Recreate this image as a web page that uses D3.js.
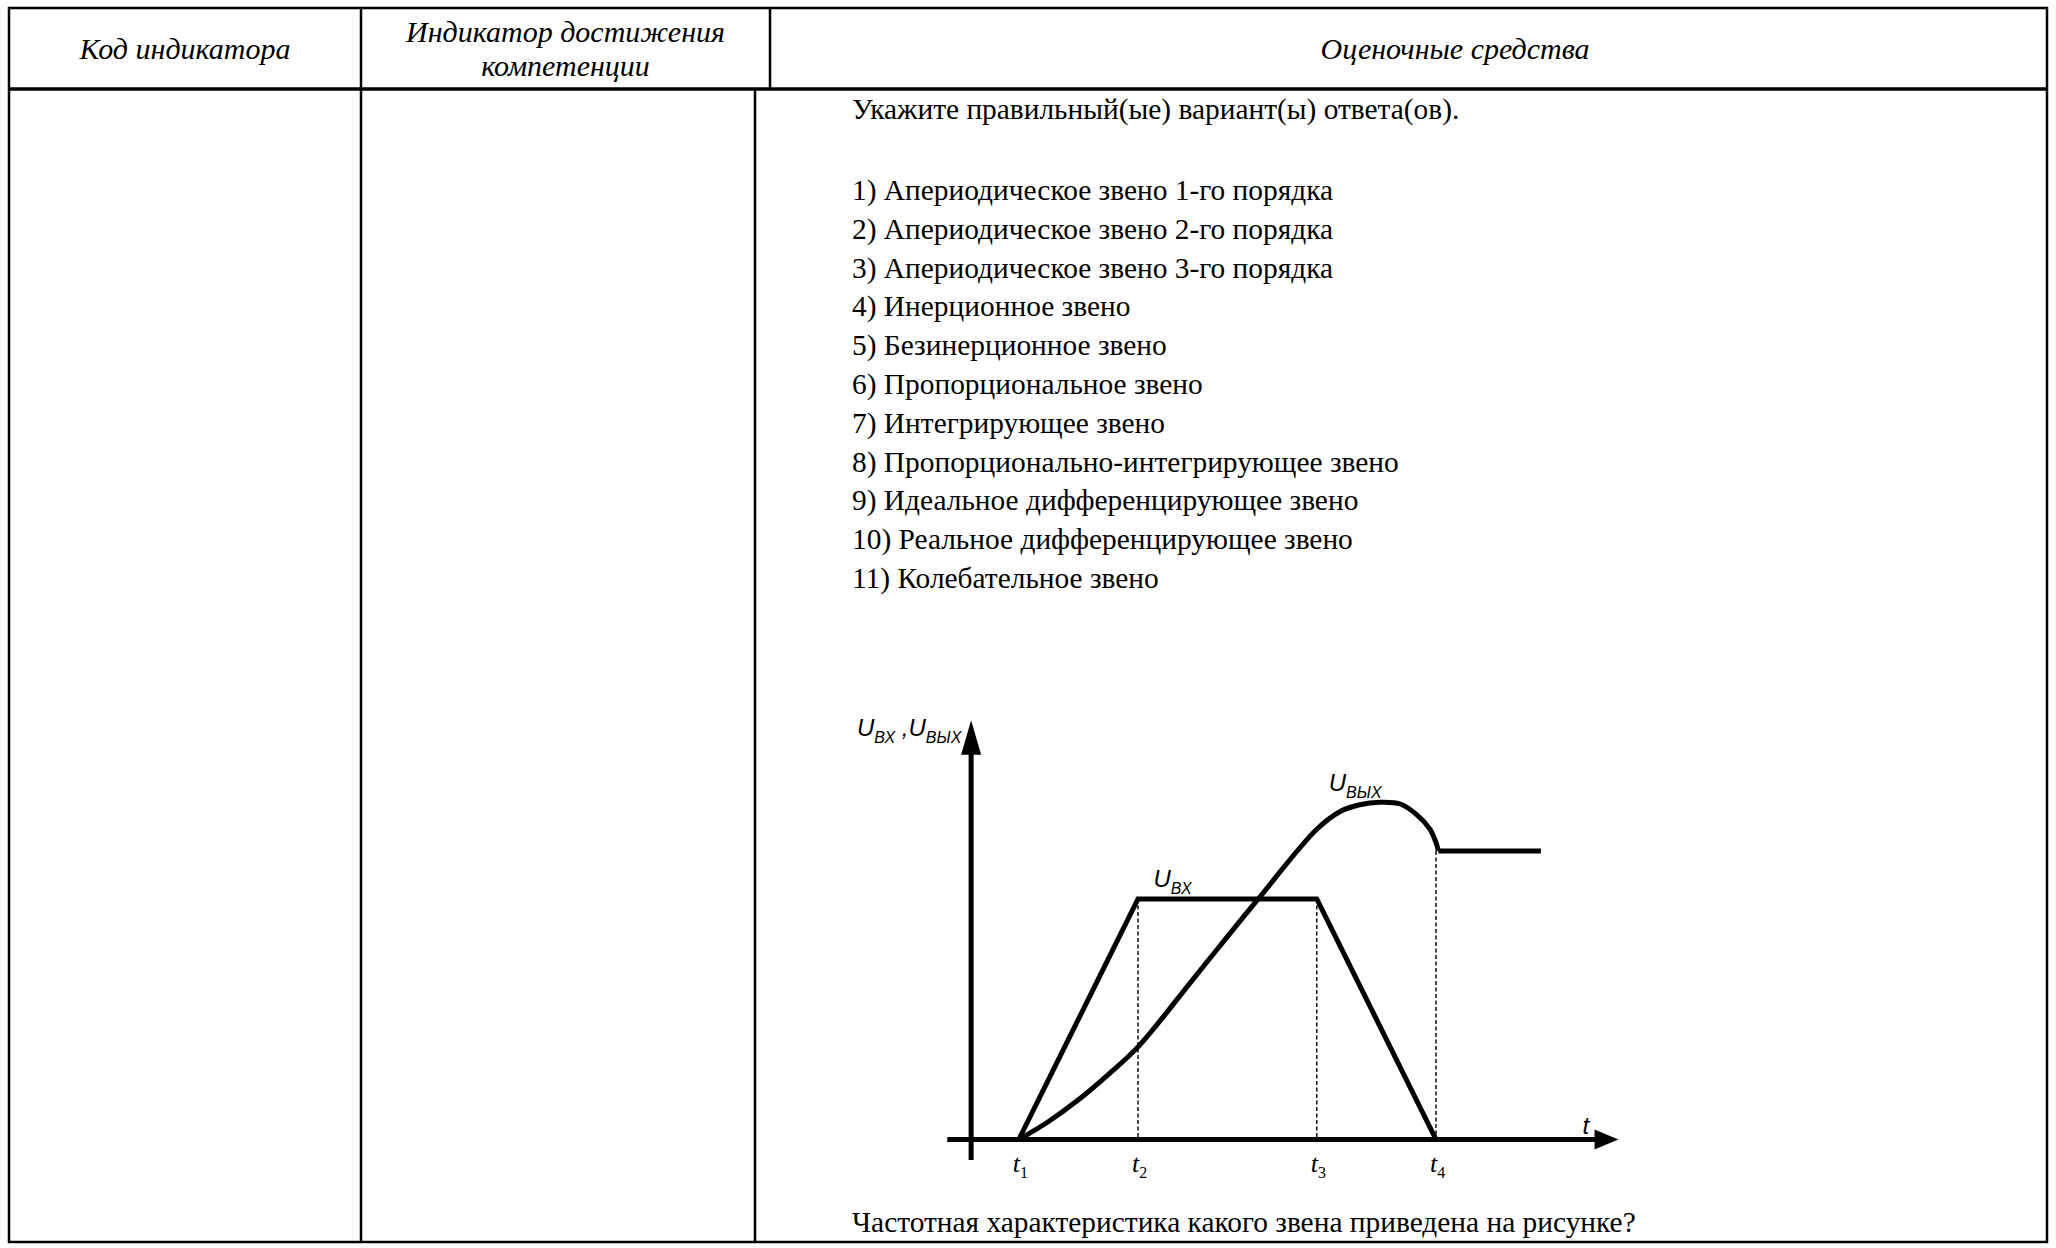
<!DOCTYPE html>
<html>
<head>
<meta charset="utf-8">
<script src="https://cdn.jsdelivr.net/npm/d3@7"></script>
<style>
  body { margin: 0; background: #fff; }
  svg { display: block; }
</style>
</head>
<body>
<svg id="page"></svg>
<script>
// header and text of the task
const headers = ["Код индикатора", "Индикатор достижения|компетенции", "Оценочные средства"];
const question = "Укажите правильный(ые) вариант(ы) ответа(ов).";
const answers = [
  "1) Апериодическое звено 1-го порядка",
  "2) Апериодическое звено 2-го порядка",
  "3) Апериодическое звено 3-го порядка",
  "4) Инерционное звено",
  "5) Безинерционное звено",
  "6) Пропорциональное звено",
  "7) Интегрирующее звено",
  "8) Пропорционально-интегрирующее звено",
  "9) Идеальное дифференцирующее звено",
  "10) Реальное дифференцирующее звено",
  "11) Колебательное звено"
];
const footer = "Частотная характеристика какого звена приведена на рисунке?";

// chart values (time units, voltage units)
const tickTimes = [1, 2, 3.5, 4.5];
const tickLabels = ["1", "2", "3", "4"];
const inputT = [1, 2, 3.5, 4.5];
const inputU = [0, 1, 1, 0];
const outputT = [1, 1.25, 1.5, 1.75, 2, 2.5, 3, 3.5, 3.7, 3.86, 4.03, 4.2, 4.34, 4.45, 4.5, 4.52];
const outputU = [0, 0.075, 0.165, 0.27, 0.385, 0.69, 0.995, 1.29, 1.365, 1.392, 1.402, 1.395, 1.35, 1.29, 1.235, 1.2];
const tailT = [4.52, 5.38];
const tailU = [1.2, 1.2];

const W = 2056, H = 1248;
const svg = d3.select("#page").attr("width", W).attr("height", H);
svg.append("rect").attr("width", W).attr("height", H).attr("fill", "#fff");

// table grid
const tbl = svg.append("g").attr("stroke", "#000").attr("fill", "none");
const L = 9, R = 2047, T = 8, B = 1242, HB = 89, C1 = 361, C2h = 770, C2b = 755;
tbl.append("rect").attr("x", L).attr("y", T).attr("width", R - L).attr("height", B - T).attr("stroke-width", 2.5);
tbl.append("line").attr("x1", L).attr("x2", R).attr("y1", HB).attr("y2", HB).attr("stroke-width", 3.5);
tbl.append("line").attr("x1", C1).attr("x2", C1).attr("y1", T).attr("y2", B).attr("stroke-width", 2.5);
tbl.append("line").attr("x1", C2h).attr("x2", C2h).attr("y1", T).attr("y2", HB).attr("stroke-width", 2.5);
tbl.append("line").attr("x1", C2b).attr("x2", C2b).attr("y1", HB).attr("y2", B).attr("stroke-width", 2.5);

const headFont = "'Liberation Serif', 'Times New Roman', serif";
const hx = [(L + C1) / 2, (C1 + C2h) / 2, 1455];
headers.forEach((h, i) => {
  const lines = h.split("|");
  const t = svg.append("text")
    .attr("x", hx[i]).attr("text-anchor", "middle")
    .attr("font-family", headFont).attr("font-style", "italic").attr("font-size", 30);
  lines.forEach((ln, j) => {
    t.append("tspan").attr("x", hx[i])
      .attr("y", lines.length === 1 ? 59 : 42 + j * 34)
      .text(ln);
  });
});

// task text
const textX = 852;
const bodyFont = "'Liberation Serif', 'Times New Roman', serif";
const bodySize = 29.4;
svg.append("text").attr("x", textX).attr("y", 119)
  .attr("font-family", bodyFont).attr("font-size", bodySize).text(question);
svg.append("g").selectAll("text").data(answers).join("text")
  .attr("x", textX).attr("y", (d, i) => 200 + i * 38.8)
  .attr("font-family", bodyFont).attr("font-size", bodySize).text(d => d);
svg.append("text").attr("x", textX).attr("y", 1232)
  .attr("font-family", bodyFont).attr("font-size", bodySize).text(footer);

// chart
const x = d3.scaleLinear().domain([0, 1]).range([899.6, 1018.8]);
const y = d3.scaleLinear().domain([0, 1]).range([1139.5, 899]);
const g = svg.append("g");

// dashed guides
const guides = [[tickTimes[1], 1], [tickTimes[2], 1], [tickTimes[3], tailU[0]]];
g.selectAll("line.guide").data(guides).join("line")
  .attr("class", "guide")
  .attr("x1", d => x(d[0])).attr("x2", d => x(d[0]))
  .attr("y1", d => y(d[1])).attr("y2", y(0))
  .attr("stroke", "#000").attr("stroke-width", 1.4).attr("stroke-dasharray", "4,2.5");

// axes
const axisW = 5;
g.append("line").attr("x1", x(0.4)).attr("x2", x(5.85)).attr("y1", y(0)).attr("y2", y(0))
  .attr("stroke", "#000").attr("stroke-width", axisW);
g.append("path")
  .attr("d", `M${x(6.03)},${y(0)} L${x(5.83)},${y(0) - 10} L${x(5.83)},${y(0) + 10} Z`)
  .attr("fill", "#000");
g.append("line").attr("x1", x(0.6)).attr("x2", x(0.6)).attr("y1", y(-0.085)).attr("y2", y(1.62))
  .attr("stroke", "#000").attr("stroke-width", axisW);
g.append("path")
  .attr("d", `M${x(0.6)},${y(1.743)} L${x(0.6) - 10},${y(1.6)} L${x(0.6) + 10},${y(1.6)} Z`)
  .attr("fill", "#000");

// input signal
const lin = d3.line().x(d => x(d[0])).y(d => y(d[1]));
g.append("path").attr("d", lin(d3.zip(inputT, inputU)))
  .attr("fill", "none").attr("stroke", "#000").attr("stroke-width", 5).attr("stroke-linejoin", "miter");

// output signal
const smooth = d3.line().x(d => x(d[0])).y(d => y(d[1])).curve(d3.curveCatmullRom);
g.append("path").attr("d", smooth(d3.zip(outputT, outputU)))
  .attr("fill", "none").attr("stroke", "#000").attr("stroke-width", 5);
g.append("path").attr("d", lin(d3.zip(tailT, tailU)))
  .attr("fill", "none").attr("stroke", "#000").attr("stroke-width", 5);

// labels
const sans = "'Liberation Sans', Arial, sans-serif";
function uLabel(px, py, subs) {
  const t = g.append("text").attr("x", px).attr("y", py)
    .attr("font-family", sans).attr("font-style", "italic").attr("font-size", 24);
  subs.forEach((s, i) => {
    if (i > 0) t.append("tspan").attr("dy", -7).text(" ,");
    t.append("tspan").attr("dy", i > 0 ? 0 : null).text("U");
    t.append("tspan").attr("font-size", 16).attr("dy", 7).text(s);
  });
  return t;
}
uLabel(x(2.13), y(1.05), ["ВХ"]);
uLabel(x(3.6), y(1.45), ["ВЫХ"]);
uLabel(857, 736, ["ВХ", "ВЫХ"]);

g.append("text").attr("x", x(5.73)).attr("y", y(0) - 6)
  .attr("font-family", sans).attr("font-style", "italic").attr("font-size", 24).text("t");

g.selectAll("text.tick").data(tickTimes).join("text")
  .attr("class", "tick")
  .attr("x", d => x(d) - 6).attr("y", y(0) + 32)
  .attr("font-family", bodyFont).attr("font-style", "italic").attr("font-size", 26)
  .each(function (d, i) {
    const s = d3.select(this);
    s.append("tspan").text("t");
    s.append("tspan").attr("font-size", 16).attr("font-style", "normal").attr("dy", 6).text(tickLabels[i]);
  });
</script>
</body>
</html>
